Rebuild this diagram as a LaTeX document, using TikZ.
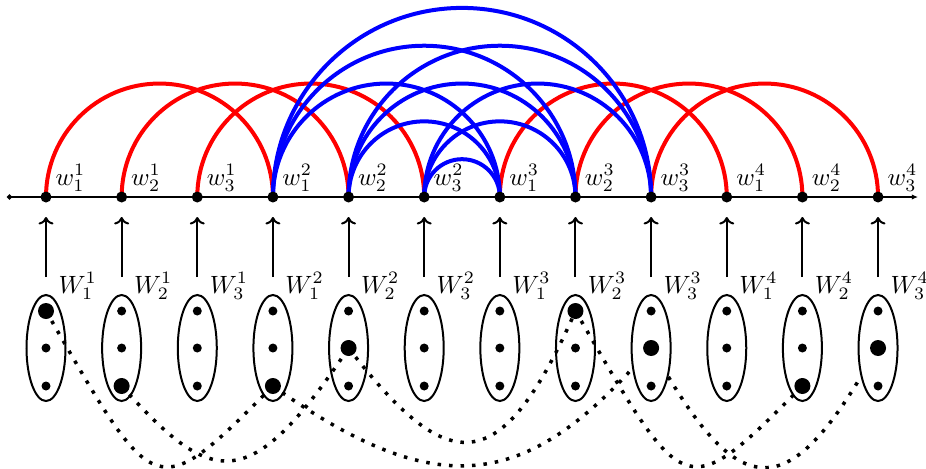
\documentclass[tikz,border=0pt]{standalone}
\usetikzlibrary{shapes.geometric,arrows.meta,calc}
\begin{document}
\begin{tikzpicture}[x=0.4pt,y=-0.4pt,
  pt/.style={circle,fill,inner sep=0,minimum size=4.4pt},
  dotn/.style={circle,fill,inner sep=0},
  grp/.style={ellipse,draw,line width=0.8pt,inner sep=0,minimum width=15.6pt,minimum height=42.4pt},
  redarc/.style={red,line width=1.6pt},
  bluearc/.style={blue,line width=1.6pt},
  uparrow/.style={line width=0.8pt,-{To[length=3pt,width=6pt]}},
  link/.style={line width=1.4pt,dash pattern=on 1.4pt off 3.2pt},
  lab/.style={inner sep=0,anchor=base west},
  axis/.style={line width=0.9pt,{Circle[length=2pt]}-{Latex[length=2.5pt,width=2.2pt]}}]
\useasboundingbox (0,0) rectangle (926,468);

% positions
\foreach \i in {1,...,12} {
  \pgfmathsetmacro\xx{46+75.64*(\i-1)}
  \coordinate (c\i) at (\xx,197);
  \node[grp] (e\i) at (\xx,348) {};
}

% red arcs
\foreach \a/\b in {1/4,2/5,3/6,7/10,8/11,9/12} {
  \draw[redarc] let \p1=(c\a), \p2=(c\b) in (c\a) arc[start angle=180,end angle=0,radius={(\x2-\x1)/2}];
}
% blue arcs
\foreach \a/\b in {4/7,4/8,4/9,5/7,5/8,5/9,6/7,6/8,6/9} {
  \draw[bluearc] let \p1=(c\a), \p2=(c\b) in (c\a) arc[start angle=180,end angle=0,radius={(\x2-\x1)/2}];
}

% axis
\coordinate (ls) at (7,197);
\coordinate (le) at (918,197);
\draw[axis] (ls) -- (le);

% points, labels, arrows
\foreach \i/\j/\g in {1/1/1,2/2/1,3/3/1,4/1/2,5/2/2,6/3/2,7/1/3,8/2/3,9/3/3,10/1/4,11/2/4,12/3/4} {
  \node[pt] (p\i) at (c\i) {};
  \node[lab] (wl\i) at ($(p\i)+(9,-12)$) {$w_{\j}^{\g}$};
  \node[lab] (Wl\i) at ($(e\i)+(12,-55)$) {$W_{\j}^{\g}$};
  \draw[uparrow] ($(e\i.north)+(0,-17)$) -- ($(p\i)+(0,20)$);
}

% dotted links
\coordinate (dA1) at ($(e1)+(0,-37)$);
\coordinate (dA2) at ($(e4)+(0,38)$);
\coordinate (dB1) at ($(e2)+(0,38)$);
\coordinate (dB2) at (e5);
\coordinate (dD2) at ($(e8)+(0,-37)$);
\coordinate (dE2) at ($(e11)+(0,38)$);
\draw[link] (dA1) .. controls +(110,191) and +(-119,120) .. (dA2);
\draw[link] (dB1) .. controls +(90,100) and +(-100,150) .. (dB2);
\draw[link] (dA2) .. controls +(160,114) and +(-130,142) .. (e9);
\draw[link] (dB2) .. controls +(100,130) and +(-75,170) .. (dD2);
\draw[link] (dD2) .. controls +(110,190) and +(-119,120) .. (dE2);
\draw[link] (e9) .. controls +(90,150) and +(-90,150) .. (e12);

% dots inside the groups
\foreach \i/\a/\b/\c in {1/6.4/3.6/3.6, 2/3.6/3.6/6.4, 3/3.6/3.6/3.6, 4/3.6/3.6/6.4, 5/3.6/6.4/3.6, 6/3.6/3.6/3.6, 7/3.6/3.6/3.6, 8/6.4/3.6/3.6, 9/3.6/6.4/3.6, 10/3.6/3.6/3.6, 11/3.6/3.6/6.4, 12/3.6/6.4/3.6} {
  \node[dotn,minimum size=\a pt] (d\i-1) at ($(e\i)+(0,-37)$) {};
  \node[dotn,minimum size=\b pt] (d\i-2) at (e\i) {};
  \node[dotn,minimum size=\c pt] (d\i-3) at ($(e\i)+(0,38)$) {};
}
\end{tikzpicture}
\end{document}
